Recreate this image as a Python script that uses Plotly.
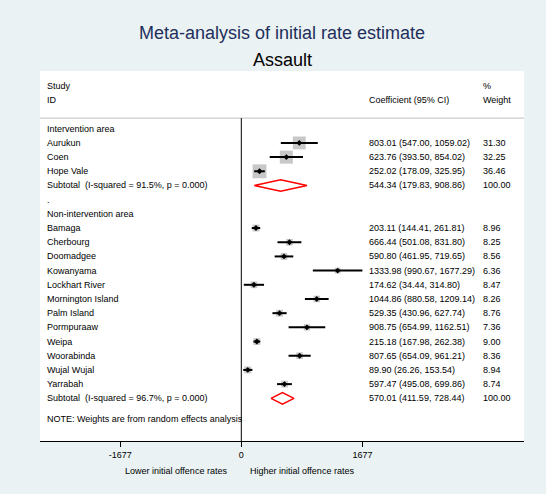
import plotly.graph_objects as go

# ---- data -------------------------------------------------------------
interv_ids = ["Aurukun", "Coen", "Hope Vale"]
interv_est = [803.01, 623.76, 252.02]
interv_lo = [547.00, 393.50, 178.09]
interv_hi = [1059.02, 854.02, 325.95]
interv_wt = [31.30, 32.25, 36.46]
interv_sub = (544.34, 179.83, 908.86)
interv_het = "Subtotal  (I-squared = 91.5%, p = 0.000)"

nonint_ids = ["Bamaga", "Cherbourg", "Doomadgee", "Kowanyama", "Lockhart River",
              "Mornington Island", "Palm Island", "Pormpuraaw", "Weipa",
              "Woorabinda", "Wujal Wujal", "Yarrabah"]
nonint_est = [203.11, 666.44, 590.80, 1333.98, 174.62, 1044.86, 529.35, 908.75,
              215.18, 807.65, 89.90, 597.47]
nonint_lo = [144.41, 501.08, 461.95, 990.67, 34.44, 880.58, 430.96, 654.99,
             167.98, 654.09, 26.26, 495.08]
nonint_hi = [261.81, 831.80, 719.65, 1677.29, 314.80, 1209.14, 627.74, 1162.51,
             262.38, 961.21, 153.54, 699.86]
nonint_wt = [8.96, 8.25, 8.56, 6.36, 8.47, 8.26, 8.76, 7.36, 9.00, 8.36, 8.94, 8.74]
nonint_sub = (570.01, 411.59, 728.44)
nonint_het = "Subtotal  (I-squared = 96.7%, p = 0.000)"

x_ticks = [-1677, 0, 1677]

# ---- layout of rows (row index grows downwards) -----------------------
rows = []  # (label, est, lo, hi, weight, kind)
rows.append(("Intervention area", None, None, None, None, "head"))
for n, e, l, h, w in zip(interv_ids, interv_est, interv_lo, interv_hi, interv_wt):
    rows.append((n, e, l, h, w, "study"))
rows.append((interv_het, *interv_sub, 100.00, "sub"))
rows.append((".", None, None, None, None, "head"))
rows.append(("Non-intervention area", None, None, None, None, "head"))
for n, e, l, h, w in zip(nonint_ids, nonint_est, nonint_lo, nonint_hi, nonint_wt):
    rows.append((n, e, l, h, w, "study"))
rows.append((nonint_het, *nonint_sub, 100.00, "sub"))

X_MIN, X_MAX = -2788, 3915
Y_TOP, Y_BOT = -4.07, 22.01
X_STUDY, X_CI, X_WT = -2719, 1739, 3318
FONT = "Liberation Sans, Arial, Helvetica, sans-serif"
TXT = dict(family=FONT, size=9, color="black")

fig = go.Figure()

box_x, box_y, box_s = [], [], []
ci_x, ci_y = [], []
pt_x, pt_y = [], []
annotations = []

for i, (lab, e, l, h, w, kind) in enumerate(rows):
    annotations.append(dict(x=X_STUDY, y=i, xref="x", yref="y", text=lab,
                            showarrow=False, xanchor="left", yanchor="middle",
                            font=TXT))
    if e is None:
        continue
    annotations.append(dict(x=X_CI, y=i, xref="x", yref="y",
                            text=f"{e:.2f} ({l:.2f}, {h:.2f})",
                            showarrow=False, xanchor="left", yanchor="middle",
                            font=TXT))
    annotations.append(dict(x=X_WT, y=i, xref="x", yref="y", text=f"{w:.2f}",
                            showarrow=False, xanchor="left", yanchor="middle",
                            font=TXT))
    if kind == "study":
        box_x.append(e); box_y.append(i); box_s.append(2.3 * w ** 0.5)
        ci_x += [l, h, None]; ci_y += [i, i, None]
        pt_x.append(e); pt_y.append(i)
    else:
        d = 0.41
        fig.add_trace(go.Scatter(x=[l, e, h, e, l], y=[i, i - d, i, i + d, i],
                                 mode="lines", line=dict(color="red", width=1.5),
                                 hoverinfo="skip", showlegend=False))

# weight boxes, confidence intervals and point estimates
fig.add_trace(go.Scatter(x=box_x, y=box_y, mode="markers",
                         marker=dict(symbol="square", size=box_s, color="#b0b0b0",
                                     line=dict(width=0)),
                         hoverinfo="skip", showlegend=False))
fig.add_trace(go.Scatter(x=ci_x, y=ci_y, mode="lines",
                         line=dict(color="black", width=2),
                         hoverinfo="skip", showlegend=False))
fig.add_trace(go.Scatter(x=pt_x, y=pt_y, mode="markers",
                         marker=dict(symbol="diamond", size=4.5, color="black"),
                         hoverinfo="skip", showlegend=False))

# column headers
hdr_rows = (-3.0, -2.05)
annotations += [
    dict(x=X_STUDY, y=hdr_rows[0], text="Study"),
    dict(x=X_STUDY, y=hdr_rows[1], text="ID"),
    dict(x=X_CI, y=hdr_rows[1], text="Coefficient (95% CI)"),
    dict(x=X_WT, y=hdr_rows[0], text="%"),
    dict(x=X_WT, y=hdr_rows[1], text="Weight"),
    dict(x=X_STUDY, y=20.48, text="NOTE: Weights are from random effects analysis"),
]
for a in annotations[-6:]:
    a.update(xref="x", yref="y", showarrow=False, xanchor="left",
             yanchor="middle", font=TXT)

# favours labels under the axis
annotations += [
    dict(x=-170, y=-0.08, xref="x", yref="paper", text="Lower initial offence rates",
         showarrow=False, xanchor="right", yanchor="middle", font=TXT),
    dict(x=93, y=-0.08, xref="x", yref="paper", text="Higher initial offence rates",
         showarrow=False, xanchor="left", yanchor="middle", font=TXT),
]

# titles
annotations += [
    dict(x=0.5, y=1.1014, xref="paper", yref="paper",
         text="Meta-analysis of initial rate estimate", showarrow=False,
         xanchor="center", yanchor="middle",
         font=dict(family=FONT, size=18, color="#1e2f5c")),
    dict(x=0.5, y=1.0297, xref="paper", yref="paper", text="Assault",
         showarrow=False, xanchor="center", yanchor="middle",
         font=dict(family=FONT, size=18, color="black")),
]

shapes = [
    dict(type="line", xref="paper", yref="y", x0=0, x1=1, y0=-0.75, y1=-0.75,
         line=dict(color="#c0c0c0", width=1)),
    dict(type="line", xref="x", yref="y", x0=0, x1=0, y0=-0.75, y1=Y_BOT,
         line=dict(color="black", width=1)),
]

fig.update_layout(
    width=546, height=494,
    margin=dict(l=40, r=22, t=71, b=53),
    paper_bgcolor="#eaf2f3", plot_bgcolor="white",
    annotations=annotations, shapes=shapes,
    xaxis=dict(range=[X_MIN, X_MAX], tickvals=x_ticks,
               ticktext=[str(v) for v in x_ticks],
               showgrid=False, zeroline=False, showline=True,
               linecolor="black", linewidth=1, ticks="outside", ticklen=5,
               tickcolor="black", tickfont=TXT),
    yaxis=dict(range=[Y_BOT, Y_TOP], visible=False, showgrid=False,
               zeroline=False),
    showlegend=False,
)

fig.write_html("out.html")
